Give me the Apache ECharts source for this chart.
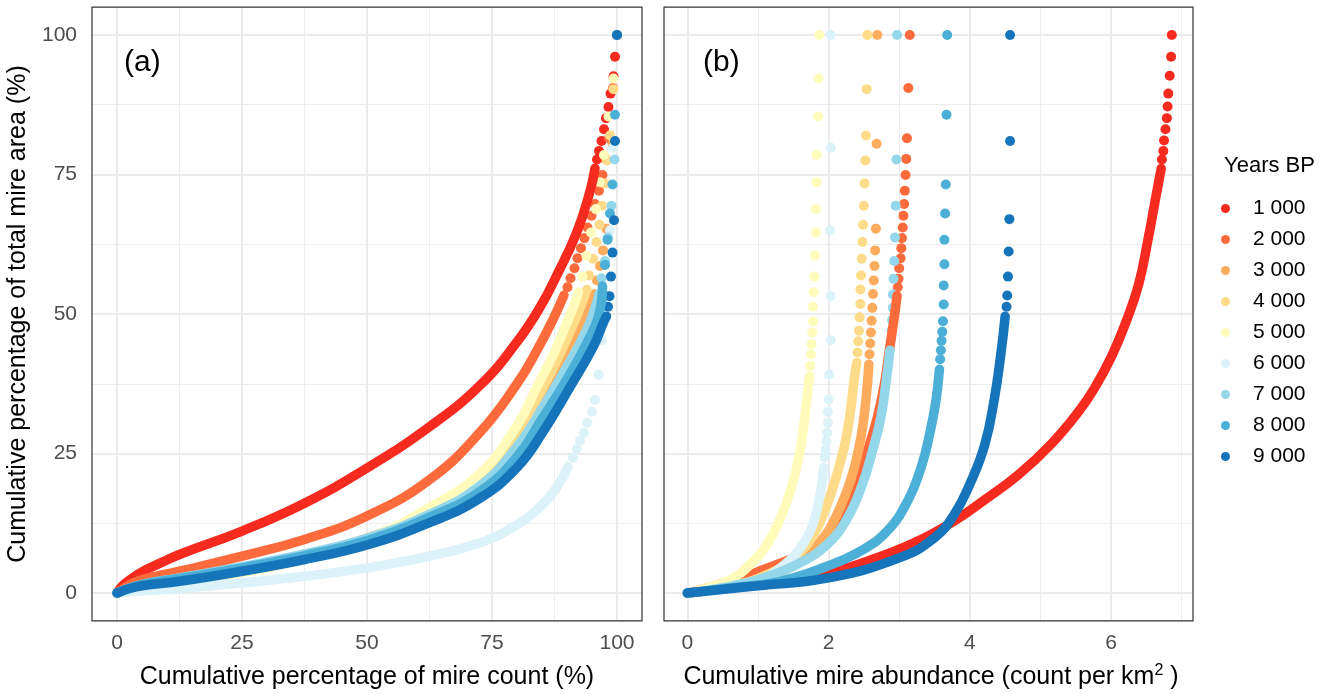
<!DOCTYPE html>
<html>
<head>
<meta charset="utf-8">
<script src="https://cdn.jsdelivr.net/npm/echarts@6/dist/echarts.min.js"></script>
<style>
html,body{margin:0;padding:0;background:#fff}
#main{width:1333px;height:694px}
</style>
</head>
<body>
<div id="main"></div>
<script>
// legend / groups
var years = ['1 000', '2 000', '3 000', '4 000', '5 000', '6 000', '7 000', '8 000', '9 000'];
var colors = ['#F72A1F', '#FD6A3B', '#FDAB5C', '#FEDB88', '#FFFCBB', '#DBF2F8', '#95D7EA', '#4CAFD7', '#1675BA'];

// tick values
var ticksA = [0, 25, 50, 75, 100];
var minorA = [12.5, 37.5, 62.5, 87.5];
var ticksB = [0, 2, 4, 6];
var minorB = [1, 3, 5, 7];

// panel (a): cumulative % of count vs cumulative % of area
var a1000Line = [[0,0],[1,1.2],[2.5,2.3],[5,3.8],[8.5,5.3],[12.5,6.9],[25,11.1],[37.5,16.1],[50,22.4],[62.5,29.8],[72.6,37.2],[80,45.0],[84.6,51.2],[88,57.0],[91.9,64.5],[94.6,72.0],[95.6,76.1]];
var a1000Dots = [[96.0,77.7],[96.4,79.2],[96.9,81.0],[97.4,83.1],[97.8,85.1],[98.3,87.1],[98.7,89.5],[99.3,92.6],[99.6,96.1],[100,100]];
var a2000Line = [[0,0],[2.5,1.5],[5,2.4],[12.5,3.9],[25,6.6],[37.5,9.6],[50,13.8],[62.5,20.3],[72.6,28.8],[80,37.5],[84,43.5],[87.3,49.2],[89.4,53.4]];
var a2000Dots = [[90.1,54.8],[90.7,56.4],[91.5,58.2],[92.1,60.0],[92.8,61.8],[93.5,63.6],[94.1,65.5],[94.9,67.6],[95.6,69.7],[96.4,72.1],[97.1,74.9],[97.7,77.8],[98.4,81.5],[99.2,90.5],[100,100]];
var a3000Line = [[0,0],[5,1.4],[12.5,2.6],[25,4.6],[37.5,6.9],[50,9.8],[62.5,14.5],[72.6,19.8],[80,27.5],[85,34.8],[88.6,40.5],[92.6,47.1],[94.9,52.0],[95.5,53.6]];
var a3000Dots = [[96.0,56.0],[96.6,58.6],[97.2,61.4],[97.9,65.3],[99.1,80.5],[100,100]];
var a4000Line = [[0,0],[5,1.3],[12.5,2.5],[25,4.4],[37.5,6.7],[50,9.7],[62.5,14.8],[72.6,20.5],[80,28.8],[85,36.5],[87.9,41.5],[91.9,49.5],[94.0,54.4]];
var a4000Dots = [[94.4,56.9],[95.2,59.9],[95.9,62.9],[96.5,66.0],[97.0,69.4],[97.5,73.4],[98.0,77.5],[98.6,82.0],[99.3,90.3],[100,100]];
var a5000Line = [[0,0],[5,1.2],[12.5,2.2],[25,3.7],[37.5,6.1],[50,9.6],[62.5,15.3],[72.6,21.4],[80,30.0],[84,37.0],[87.3,42.8],[89.6,47.6],[91.6,52.0],[92.3,53.9]];
var a5000Dots = [[93.1,56.7],[93.9,60.4],[94.8,64.6],[95.8,68.8],[96.6,73.6],[97.4,78.5],[98.3,85.4],[99.3,92.2],[100,100]];
var a6000Line = [[0,0],[5,0.4],[12.5,0.8],[25,1.8],[37.5,3.0],[50,4.5],[62.5,6.6],[72.6,9.0],[79.2,11.8],[84.6,15.4],[88.0,19.0],[90.2,22.6]];
var a6000Dots = [[91.2,24.2],[92.0,25.8],[92.6,27.3],[93.4,28.7],[94.0,30.5],[95.0,32.5],[95.6,34.6],[96.3,39.1],[97.0,45.3],[97.8,53.2],[98.6,65.0],[99.2,79.8],[100,100]];
var a7000Line = [[0,0],[5,1.5],[12.5,2.7],[25,4.7],[37.5,7.0],[50,9.8],[62.5,14.1],[72.6,19.2],[80,26.2],[85,33.0],[89.3,39.5],[93.9,47.1],[95.9,51.9],[96.4,53.6]];
var a7000Dots = [[96.9,56.4],[97.6,59.5],[98.2,63.7],[98.9,69.4],[99.5,77.7],[100,100]];
var a8000Line = [[0,0],[5,1.5],[12.5,2.6],[25,4.5],[37.5,6.7],[50,9.4],[62.5,13.6],[72.6,18.2],[80,24.4],[85,31.2],[89.9,38.2],[94.6,45.9],[96.6,50.7],[97.1,55.0]];
var a8000Dots = [[97.6,58.8],[98.1,63.3],[98.6,68.0],[99.1,73.2],[99.6,85.7],[100,100]];
var a9000Line = [[0,0],[2.5,0.8],[5,1.3],[12.5,2.1],[25,3.9],[37.5,6.0],[50,8.6],[62.5,12.6],[72.6,17.0],[80,22.5],[85,28.6],[90.6,36.9],[95.3,44.2],[97.3,48.5],[97.9,49.6]];
var a9000Dots = [[98.2,51.3],[98.5,53.2],[98.8,56.7],[99.1,61.0],[99.4,66.8],[99.6,81.0],[100,100]];

// panel (b): cumulative abundance (count per km2) vs cumulative % of area
var b1000Line = [[0,0],[1,1.5],[2,3.6],[2.55,5.7],[3.21,9.0],[3.74,12.6],[4.21,16.7],[4.69,21.2],[5.16,26.8],[5.54,32.5],[5.77,36.8],[6.01,42.5],[6.2,48.2],[6.39,55.3],[6.53,63.8],[6.62,70.0],[6.71,76.1]];
var b1000Dots = [[6.72,77.7],[6.74,79.2],[6.75,81.1],[6.77,83.1],[6.79,85.1],[6.80,87.2],[6.81,89.5],[6.83,92.7],[6.85,96.1],[6.86,100]];
var b2000Line = [[0,0],[0.61,2.1],[1.08,4.2],[1.55,6.6],[1.93,9.3],[2.17,13.5],[2.41,19.5],[2.55,25.4],[2.69,31.4],[2.79,37.4],[2.86,43.4],[2.93,49.4],[2.97,53.3]];
var b2000Dots = [[2.98,54.8],[2.99,56.3],[3.0,58.2],[3.02,60.0],[3.03,61.8],[3.04,63.6],[3.05,65.5],[3.06,67.6],[3.07,69.7],[3.08,72.1],[3.09,74.9],[3.10,77.8],[3.11,81.5],[3.13,90.5],[3.15,100]];
var b3000Line = [[0,0],[0.61,1.0],[1.13,2.7],[1.55,5.4],[1.89,9.3],[2.12,14.1],[2.31,20.1],[2.43,26.0],[2.50,31.4],[2.55,37.4],[2.57,41.0]];
var b3000Dots = [[2.58,42.8],[2.59,44.7],[2.60,46.7],[2.61,48.8],[2.62,51.1],[2.63,53.6],[2.64,56.0],[2.65,58.6],[2.66,61.4],[2.67,65.3],[2.68,80.5],[2.69,100]];
var b4000Line = [[0,0],[0.61,1.2],[1.13,3.3],[1.51,6.3],[1.79,10.5],[1.98,15.9],[2.12,21.3],[2.24,27.2],[2.31,32.6],[2.36,38.0],[2.40,41.3]];
var b4000Dots = [[2.41,43.1],[2.42,45.1],[2.43,47.0],[2.44,49.4],[2.45,51.8],[2.45,54.4],[2.46,56.9],[2.47,59.9],[2.48,62.9],[2.49,66.0],[2.50,69.4],[2.51,73.4],[2.52,77.5],[2.53,82.0],[2.54,90.3],[2.55,100]];
var b5000Line = [[0,0],[0.27,0.9],[0.61,2.4],[0.89,5.1],[1.13,8.7],[1.32,13.5],[1.46,18.3],[1.58,24.3],[1.65,30.2],[1.70,35.6],[1.73,38.9]];
var b5000Dots = [[1.74,40.7],[1.75,42.8],[1.76,44.6],[1.77,46.7],[1.78,48.7],[1.78,51.3],[1.79,53.9],[1.80,56.7],[1.81,60.5],[1.82,64.6],[1.82,68.8],[1.83,73.6],[1.83,78.5],[1.85,85.4],[1.86,92.2],[1.87,100]];
var b6000Line = [[0,0],[0.61,0.9],[0.99,2.1],[1.32,4.5],[1.55,7.2],[1.72,10.5],[1.82,14.1],[1.89,18.3],[1.93,22.5]];
var b6000Dots = [[1.95,24.3],[1.96,25.7],[1.97,27.2],[1.98,28.7],[1.99,30.5],[1.99,32.5],[2.0,34.7],[2.01,39.1],[2.03,45.3],[2.03,53.2],[2.02,65.0],[2.03,79.8],[2.03,100]];
var b7000Line = [[0,0],[0.61,1.2],[1.08,2.7],[1.55,5.1],[1.98,8.7],[2.27,13.5],[2.48,19.5],[2.62,25.4],[2.74,31.4],[2.81,37.4],[2.87,43.5]];
var b7000Dots = [[2.88,45.2],[2.89,47.0],[2.90,48.9],[2.91,51.1],[2.91,53.5],[2.92,56.3],[2.93,59.5],[2.94,63.7],[2.95,69.4],[2.96,77.7],[2.97,100]];
var b8000Line = [[0,0],[0.61,0.9],[1.32,2.1],[1.98,4.8],[2.45,7.5],[2.83,11.1],[3.12,16.5],[3.31,22.5],[3.43,28.4],[3.52,34.4],[3.57,40.1]];
var b8000Dots = [[3.58,41.9],[3.59,43.5],[3.60,45.2],[3.61,46.8],[3.62,48.7],[3.63,51.7],[3.63,55.1],[3.64,58.9],[3.64,63.3],[3.65,68.0],[3.66,73.2],[3.67,85.7],[3.68,100]];
var b9000Line = [[0,0],[1,1.3],[2,2.7],[3,6.3],[3.5,9.9],[3.78,14.1],[4.0,19.5],[4.21,26.5],[4.35,35.0],[4.45,43.9],[4.50,49.6]];
var b9000Dots = [[4.52,51.3],[4.53,53.3],[4.54,56.7],[4.55,61.2],[4.56,67.0],[4.57,81.0],[4.57,100]];

var aLines = [a1000Line, a2000Line, a3000Line, a4000Line, a5000Line, a6000Line, a7000Line, a8000Line, a9000Line];
var aDots = [a1000Dots, a2000Dots, a3000Dots, a4000Dots, a5000Dots, a6000Dots, a7000Dots, a8000Dots, a9000Dots];
var bLines = [b1000Line, b2000Line, b3000Line, b4000Line, b5000Line, b6000Line, b7000Line, b8000Line, b9000Line];
var bDots = [b1000Dots, b2000Dots, b3000Dots, b4000Dots, b5000Dots, b6000Dots, b7000Dots, b8000Dots, b9000Dots];

var FONT = 'Liberation Sans, Arial, Helvetica, sans-serif';
var DOT = 10;

function gridLines(xMaj, xMin, yMaj, yMin) {
    var d = [];
    xMin.forEach(function (v) { d.push({xAxis: v, lineStyle: {width: 1, color: '#EDEDED'}}) });
    yMin.forEach(function (v) { d.push({yAxis: v, lineStyle: {width: 1, color: '#EDEDED'}}) });
    xMaj.forEach(function (v) { d.push({xAxis: v, lineStyle: {width: 2, color: '#EBEBEB'}}) });
    yMaj.forEach(function (v) { d.push({yAxis: v, lineStyle: {width: 2, color: '#EBEBEB'}}) });
    return d;
}

var series = [];
[0, 1].forEach(function (p) {
    series.push({
        type: 'line', xAxisIndex: p, yAxisIndex: p, data: [], silent: true, z: 1,
        markLine: {
            z: 1, silent: true, symbol: 'none', animation: false, label: {show: false},
            lineStyle: {type: 'solid'},
            data: p == 0 ? gridLines(ticksA, minorA, ticksA, minorA) : gridLines(ticksB, minorB, ticksA, minorA)
        }
    });
});
years.forEach(function (name, i) {
    [[aLines, aDots], [bLines, bDots]].forEach(function (pair, p) {
        series.push({
            type: 'line', name: name, xAxisIndex: p, yAxisIndex: p,
            data: pair[0][i], showSymbol: false, symbol: 'none', smooth: 0.45, clip: false,
            itemStyle: {color: colors[i]},
            lineStyle: {color: colors[i], width: 9.5, cap: 'round', join: 'round'},
            silent: true
        });
        series.push({
            type: 'scatter', name: name, xAxisIndex: p, yAxisIndex: p,
            data: pair[1][i], symbolSize: DOT, clip: false,
            itemStyle: {color: colors[i], opacity: 1},
            silent: true
        });
    });
});

var tickStyle = {show: true, length: 7, inside: false, lineStyle: {color: '#333333', width: 1.5}};
var labStyle = {fontSize: 21, color: '#4D4D4D', fontFamily: FONT};

myChart = echarts.init(document.getElementById('main'));
myChart.setOption({
    backgroundColor: '#ffffff',
    animation: false,
    grid: [
        {left: 92, top: 7.1, width: 550, height: 613.8, show: true, borderColor: '#333333', borderWidth: 1.2, z: 3, outerBoundsMode: 'none'},
        {left: 664, top: 7.1, width: 529, height: 613.8, show: true, borderColor: '#333333', borderWidth: 1.2, z: 3, outerBoundsMode: 'none'},
        {left: 117, top: 35, width: 500, height: 558, outerBoundsMode: 'none'},
        {left: 687.3, top: 35, width: 423.8, height: 558, outerBoundsMode: 'none'}
    ],
    xAxis: [
        {gridIndex: 0, type: 'value', min: -5, max: 105, show: false},
        {gridIndex: 1, type: 'value', min: -0.33, max: 7.16, show: false},
        {gridIndex: 2, type: 'value', min: 0, max: 100, interval: 25, offset: 27.9,
            axisLine: {show: false}, axisTick: tickStyle, splitLine: {show: false},
            axisLabel: Object.assign({margin: 12}, labStyle)},
        {gridIndex: 3, type: 'value', min: 0, max: 6, interval: 2, offset: 27.9,
            axisLine: {show: false}, axisTick: tickStyle, splitLine: {show: false},
            axisLabel: Object.assign({margin: 12}, labStyle)}
    ],
    yAxis: [
        {gridIndex: 0, type: 'value', min: -5, max: 105, show: false},
        {gridIndex: 1, type: 'value', min: -5, max: 105, show: false},
        {gridIndex: 2, type: 'value', min: 0, max: 100, interval: 25, offset: 25,
            axisLine: {show: false}, axisTick: tickStyle, splitLine: {show: false},
            axisLabel: Object.assign({margin: 15}, labStyle)},
        {gridIndex: 3, type: 'value', min: 0, max: 100, interval: 25, offset: 23.3,
            axisLine: {show: false}, axisTick: tickStyle, splitLine: {show: false},
            axisLabel: {show: false}}
    ],
    legend: {
        data: years, orient: 'vertical', left: 1216, top: 193,
        icon: 'circle', itemWidth: 45, itemHeight: 9, itemGap: 10,
        selectedMode: false, itemStyle: {borderWidth: 0},
        textStyle: {fontSize: 21, color: '#000', fontFamily: FONT}
    },
    graphic: [
        {type: 'text', left: 124, top: 48, style: {text: '(a)', fontSize: 30, fontFamily: FONT, fill: '#000'}},
        {type: 'text', left: 703, top: 48, style: {text: '(b)', fontSize: 30, fontFamily: FONT, fill: '#000'}},
        {type: 'text', left: 1224, top: 155, style: {text: 'Years BP', fontSize: 22, fontFamily: FONT, fill: '#000'}},
        {type: 'text', x: 367, y: 677, style: {text: 'Cumulative percentage of mire count (%)', fontSize: 25, fontFamily: FONT, fill: '#000', align: 'center', verticalAlign: 'middle', textAlign: 'center', textVerticalAlign: 'middle'}},
        {type: 'text', x: 931, y: 677, style: {
            text: '{t|Cumulative mire abundance (count per km}{s|2}{t| )}',
            align: 'center', verticalAlign: 'middle', textAlign: 'center', textVerticalAlign: 'middle',
            rich: {
                t: {fontSize: 25, fontFamily: FONT, fill: '#000', color: '#000'},
                s: {fontSize: 16, fontFamily: FONT, fill: '#000', color: '#000', verticalAlign: 'top', padding: [0, 0, 12, 0]}
            }
        }},
        {type: 'text', x: 18, y: 314, rotation: Math.PI / 2, style: {text: 'Cumulative percentage of total mire area (%)', fontSize: 25, fontFamily: FONT, fill: '#000', align: 'center', verticalAlign: 'middle', textAlign: 'center', textVerticalAlign: 'middle'}}
    ],
    series: series
});
</script>
</body>
</html>
